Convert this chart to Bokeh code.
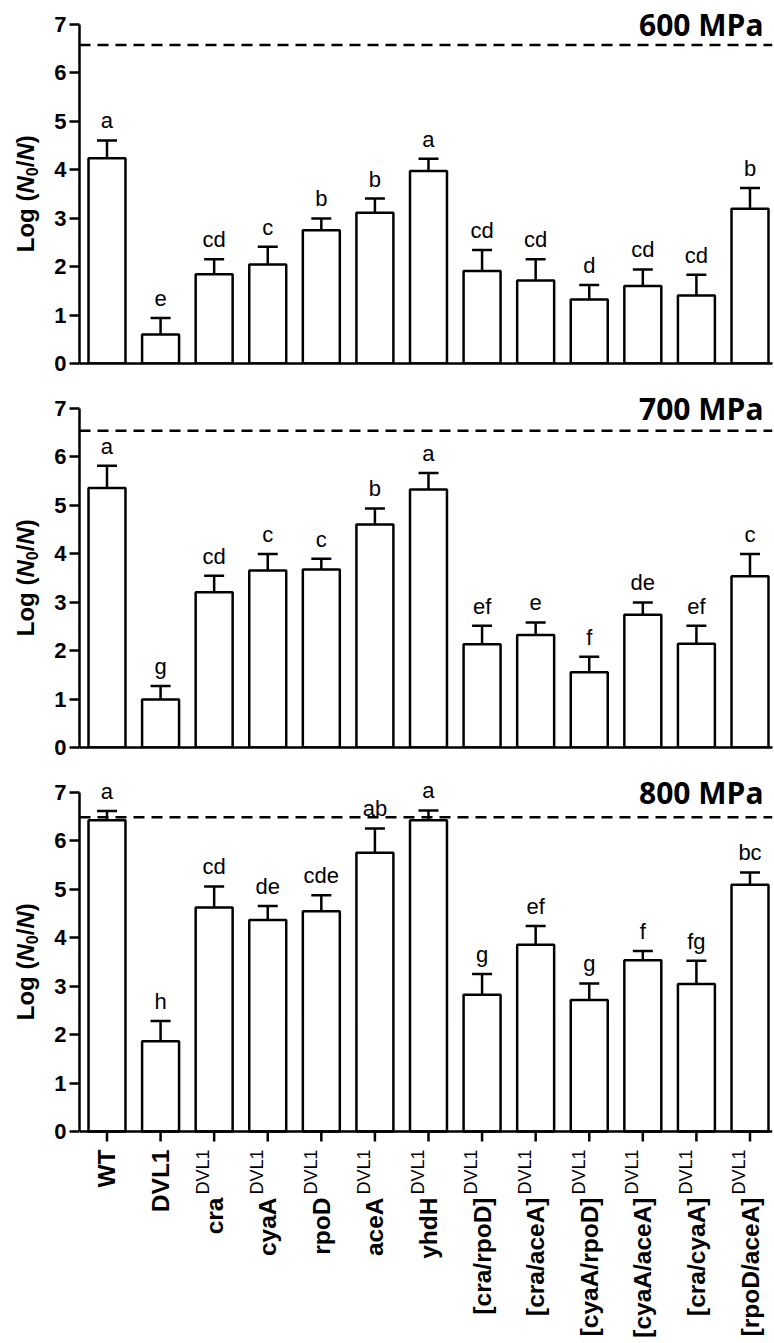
import math
from bokeh.plotting import figure
from bokeh.models import ColumnDataSource, Range1d, FixedTicker, Span, Whisker, TeeHead
from bokeh.layouts import column, row
from bokeh.embed import file_html
from bokeh.resources import INLINE
from bokeh.core.properties import value

# ---------------- data ----------------
strains = ["WT", "DVL1", "cra", "cyaA", "rpoD", "aceA", "yhdH",
           "[cra/rpoD]", "[cra/aceA]", "[cyaA/rpoD]", "[cyaA/aceA]",
           "[cra/cyaA]", "[rpoD/aceA]"]
strain_sup = ["", "", "DVL1", "DVL1", "DVL1", "DVL1", "DVL1",
              "DVL1", "DVL1", "DVL1", "DVL1", "DVL1", "DVL1"]

pressures = ["600 MPa", "700 MPa", "800 MPa"]

mean_600 = [4.23, 0.60, 1.84, 2.04, 2.75, 3.11, 3.97, 1.91, 1.71, 1.32, 1.60, 1.40, 3.19]
err_600 = [0.37, 0.34, 0.31, 0.37, 0.24, 0.29, 0.25, 0.43, 0.44, 0.30, 0.34, 0.43, 0.43]
letters_600 = ["a", "e", "cd", "c", "b", "b", "a", "cd", "cd", "d", "cd", "cd", "b"]

mean_700 = [5.35, 0.99, 3.20, 3.65, 3.67, 4.60, 5.32, 2.13, 2.32, 1.55, 2.74, 2.14, 3.53]
err_700 = [0.46, 0.28, 0.34, 0.34, 0.22, 0.33, 0.34, 0.38, 0.26, 0.32, 0.25, 0.37, 0.46]
letters_700 = ["a", "g", "cd", "c", "c", "b", "a", "ef", "e", "f", "de", "ef", "c"]

mean_800 = [6.42, 1.86, 4.62, 4.36, 4.54, 5.75, 6.42, 2.82, 3.85, 2.71, 3.53, 3.04, 5.09]
err_800 = [0.19, 0.42, 0.43, 0.29, 0.33, 0.50, 0.20, 0.43, 0.39, 0.34, 0.19, 0.48, 0.25]
letters_800 = ["a", "h", "cd", "de", "cde", "ab", "a", "g", "ef", "g", "f", "fg", "bc"]

detection_limit = [6.57, 6.53, 6.48]
y_ticks = [0, 1, 2, 3, 4, 5, 6, 7]

# ---------------- layout constants ----------------
FW, FH = 693, 354
YL_W = 45              # width of the y-title strip
LEFT = 79 - YL_W       # room for tick labels
RIGHT = 2
X0, X1 = -0.513, 12.42
Y1 = 7.3
PXU_X = FW / (X1 - X0)
PXU_Y = FH / Y1
TOPS = [9, 15, 15]
BOTTOMS = [15, 15, 0]
H_TOTAL = 1343
LAST_FH = H_TOTAL - (TOPS[0] + FH + BOTTOMS[0]) - (TOPS[1] + FH + BOTTOMS[1]) - TOPS[2]
FHS = [FH, FH, LAST_FH]
Y0S = [0.0, 0.0, Y1 - LAST_FH / PXU_Y]   # bottom panel extends below 0 for the tick labels

FONT = "Liberation Sans"
LW = 2.5
MID_LS = 0.3465   # (ascent - descent)/2 for Liberation Sans, in em
MID_OS = 0.388    # same for Open Sans

BOLD_W = {'L': 611, 'o': 611, 'g': 611, ' ': 278, '(': 333, 'N': 722,
          '0': 556, '/': 278, ')': 333}
REG_W = {'D': 722, 'V': 667, 'L': 556, '1': 556}


def text_width(s, table, size):
    return sum(table[c] for c in s) * size / 1000.0


idx = list(range(len(strains)))


def clean(p):
    p.xgrid.visible = False
    p.ygrid.visible = False
    p.outline_line_color = None
    p.background_fill_color = "white"
    p.border_fill_color = "white"


def make_ytitle(k):
    q = figure(frame_width=YL_W, frame_height=FHS[k],
               x_range=Range1d(0, YL_W), y_range=Range1d(Y0S[k], Y1),
               output_backend="svg", toolbar_location=None, title=None,
               x_axis_type=None, y_axis_type=None,
               min_border_left=0, min_border_right=0,
               min_border_top=TOPS[k], min_border_bottom=BOTTOMS[k])
    clean(q)
    pieces = [("Log (", "bold", 24, 0), ("N", "bold italic", 24, 0),
              ("0", "bold", 16, 4), ("/", "bold", 24, 0),
              ("N", "bold italic", 24, 0), (")", "bold", 24, 0)]
    total = sum(text_width(t, BOLD_W, s) for t, _, s, _ in pieces)
    y_start = 3.5 - total / 2.0 / PXU_Y
    baseline_x = 33
    cum = 0.0
    for t, style, size, shift in pieces:
        src = ColumnDataSource(dict(
            x=[baseline_x + shift - MID_LS * size],
            y=[y_start + cum / PXU_Y], t=[t]))
        q.text(x="x", y="y", text="t", source=src, angle=math.pi / 2,
               text_align="left", text_baseline="middle",
               text_font=value(FONT), text_font_style=style,
               text_font_size=value(f"{size}px"), text_color="black")
        cum += text_width(t, BOLD_W, size)
    return q


def make_panel(k, means, errs, letters, limit, title):
    p = figure(frame_width=FW, frame_height=FHS[k],
               x_range=Range1d(X0, X1), y_range=Range1d(Y0S[k], Y1),
               output_backend="svg", toolbar_location=None, title=None,
               min_border_left=LEFT, min_border_right=RIGHT,
               min_border_top=TOPS[k], min_border_bottom=BOTTOMS[k])
    clean(p)

    ya = p.yaxis[0]
    ya.ticker = FixedTicker(ticks=y_ticks)
    ya.bounds = (0, 7)
    ya.axis_line_width = LW
    ya.major_tick_line_width = LW
    ya.major_tick_out = 10
    ya.major_tick_in = 0
    ya.minor_tick_line_color = None
    ya.major_label_standoff = 3
    ya.major_label_text_font = FONT
    ya.major_label_text_font_style = "bold"
    ya.major_label_text_font_size = "22px"
    ya.major_label_text_color = "black"

    if k < 2:
        xa = p.xaxis[0]
        xa.ticker = FixedTicker(ticks=[])
        xa.axis_line_width = LW
        xa.major_tick_out = 0
        xa.major_tick_in = 0
        xa.minor_tick_line_color = None
        xa.major_label_standoff = 0
    else:
        # bottom panel: frame continues below zero to hold the strain labels
        p.xaxis.visible = False
        p.add_layout(Span(location=0, dimension="width", line_color="black",
                          line_width=LW))
        tick_src = ColumnDataSource(dict(x=idx, y0=[0] * len(idx),
                                         y1=[-10.0 / PXU_Y] * len(idx)))
        p.segment(x0="x", y0="y0", x1="x", y1="y1", source=tick_src,
                  line_color="black", line_width=LW)

        SUP_SIZE = 18
        MAIN_SIZE = 24.5
        TOP_PX = 18
        main_y = []
        for s in strain_sup:
            off = TOP_PX + (text_width(s, REG_W, SUP_SIZE) + 3 if s else 0)
            main_y.append(-off / PXU_Y)
        msrc = ColumnDataSource(dict(
            x=[i + (8.5 - MID_LS * MAIN_SIZE) / PXU_X for i in idx],
            y=main_y, t=strains))
        p.text(x="x", y="y", text="t", source=msrc, angle=math.pi / 2,
               text_align="right", text_baseline="middle",
               text_font=value(FONT), text_font_style="bold",
               text_font_size=value(f"{MAIN_SIZE}px"), text_color="black")

        sup_idx = [i for i in idx if strain_sup[i]]
        ssrc = ColumnDataSource(dict(
            x=[i + (-4.5 - MID_LS * SUP_SIZE) / PXU_X for i in sup_idx],
            y=[-TOP_PX / PXU_Y] * len(sup_idx),
            t=[strain_sup[i] for i in sup_idx]))
        p.text(x="x", y="y", text="t", source=ssrc, angle=math.pi / 2,
               text_align="right", text_baseline="middle",
               text_font=value(FONT), text_font_size=value(f"{SUP_SIZE}px"),
               text_color="black")

    src = ColumnDataSource(dict(
        x=idx, top=means,
        upper=[m + e for m, e in zip(means, errs)],
        lower=[m - e for m, e in zip(means, errs)],
        ly=[m + e + (12.0 + MID_LS * 22) / PXU_Y for m, e in zip(means, errs)],
        letter=letters))

    p.vbar(x="x", top="top", bottom=0, width=0.69, source=src,
           fill_color="white", line_color="black", line_width=LW)

    p.add_layout(Whisker(base="x", upper="upper", lower="lower", source=src,
                         line_color="black", line_width=LW,
                         upper_head=TeeHead(size=20, line_width=LW, line_color="black"),
                         lower_head=TeeHead(size=20, line_width=LW, line_color="black")))

    p.text(x="x", y="ly", text="letter", source=src,
           text_align="center", text_baseline="middle",
           text_font=value(FONT), text_font_size=value("22px"),
           text_color="black")

    p.add_layout(Span(location=limit, dimension="width", line_color="black",
                      line_width=LW, line_dash="11 7"))

    tsrc = ColumnDataSource(dict(x=[X1 - 9.0 / PXU_X],
                                 y=[6.76 + MID_OS * 30 / PXU_Y], t=[title]))
    p.text(x="x", y="y", text="t", source=tsrc, text_align="right",
           text_baseline="middle", text_font=value("Open Sans"),
           text_font_style="bold", text_font_size=value("30px"),
           text_color="black")
    return p


rows = []
for k, (m, e, l) in enumerate([(mean_600, err_600, letters_600),
                               (mean_700, err_700, letters_700),
                               (mean_800, err_800, letters_800)]):
    rows.append(row(make_ytitle(k),
                    make_panel(k, m, e, l, detection_limit[k], pressures[k]),
                    spacing=0))

layout = column(*rows, spacing=0)
open("out.html", "w").write(file_html(layout, INLINE))
